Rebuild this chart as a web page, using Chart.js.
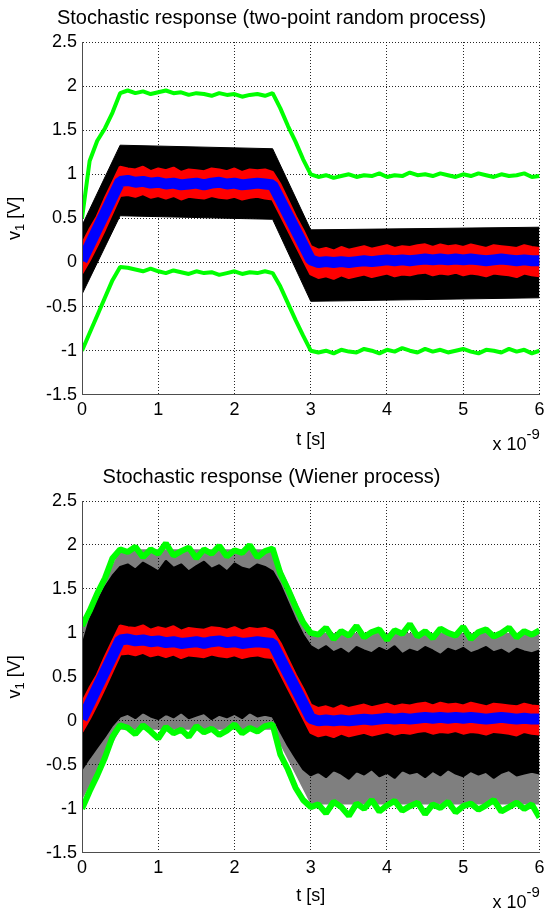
<!DOCTYPE html>
<html>
<head>
<meta charset="utf-8">
<script src="https://cdn.jsdelivr.net/npm/chart.js@4.4.1/dist/chart.umd.min.js"></script>
<style>
  body { margin: 0; background: #fff; }
  canvas { display: block; }
</style>
</head>
<body>
<canvas id="twoPointChart" width="549" height="456"></canvas>
<canvas id="wienerChart" width="549" height="456"></canvas>
<script>
// time axis in ns (axis is labelled x 10^-9 s)
const tGrid = [
  0, 0.1, 0.2, 0.3, 0.4, 0.5, 0.6, 0.7, 0.8, 0.9,
  1, 1.1, 1.2, 1.3, 1.4, 1.5, 1.6, 1.7, 1.8, 1.9,
  2, 2.1, 2.2, 2.3, 2.4, 2.5, 2.6, 2.7, 2.8, 2.9,
  3, 3.1, 3.2, 3.3, 3.4, 3.5, 3.6, 3.7, 3.8, 3.9,
  4, 4.1, 4.2, 4.3, 4.4, 4.5, 4.6, 4.7, 4.8, 4.9,
  5, 5.1, 5.2, 5.3, 5.4, 5.5, 5.6, 5.7, 5.8, 5.9,
  6,
];
const tBreaks = [0, 0.5, 2.5, 3, 6];

const xTickValues = [0, 1, 2, 3, 4, 5, 6];
const xTickLabels = ["0", "1", "2", "3", "4", "5", "6"];
const yTickValues = [-1.5, -1, -0.5, 0, 0.5, 1, 1.5, 2, 2.5];
const yTickLabels = ["-1.5", "-1", "-0.5", "0", "0.5", "1", "1.5", "2", "2.5"];

// mean response (blue), same in both plots
const meanV = [
  0.02, 0.2, 0.38, 0.56, 0.74, 0.92, 0.93, 0.91, 0.92, 0.9,
  0.91, 0.89, 0.9, 0.88, 0.89, 0.9, 0.88, 0.9, 0.91, 0.89,
  0.9, 0.88, 0.89, 0.9, 0.89, 0.88, 0.71, 0.54, 0.37, 0.2,
  0.03, 0.0, 0.01, 0.0, 0.01, 0.0, 0.01, 0.02, 0.01, 0.02,
  0.03, 0.02, 0.03, 0.02, 0.03, 0.04, 0.03, 0.04, 0.03, 0.04,
  0.03, 0.04, 0.03, 0.02, 0.03, 0.04, 0.03, 0.02, 0.03, 0.02,
  0.02,
];

// red band edges (mean +/- std)
const redHi = [
  0.2, 0.37, 0.52, 0.72, 0.9, 1.08, 1.06, 1.05, 1.08, 1.03,
  1.06, 1.04, 1.07, 1.02, 1.05, 1.04, 1.03, 1.06, 1.05, 1.03,
  1.06, 1.02, 1.05, 1.04, 1.05, 1.02, 0.88, 0.7, 0.52, 0.36,
  0.18, 0.14, 0.16, 0.13, 0.17, 0.14, 0.16, 0.18, 0.15, 0.17,
  0.19, 0.16, 0.18, 0.17, 0.19, 0.2, 0.17, 0.2, 0.18, 0.19,
  0.17, 0.2, 0.18, 0.16, 0.19, 0.18, 0.17, 0.16, 0.19, 0.17,
  0.16,
];
const redLo = [
  -0.12, 0.03, 0.2, 0.38, 0.57, 0.76, 0.77, 0.75, 0.78, 0.74,
  0.76, 0.73, 0.76, 0.72, 0.75, 0.74, 0.73, 0.76, 0.74, 0.73,
  0.75, 0.72, 0.74, 0.75, 0.73, 0.72, 0.55, 0.38, 0.21, 0.04,
  -0.13, -0.17, -0.15, -0.18, -0.14, -0.17, -0.15, -0.13, -0.16, -0.14,
  -0.12, -0.15, -0.13, -0.14, -0.12, -0.11, -0.14, -0.12, -0.13, -0.11,
  -0.14, -0.12, -0.13, -0.15, -0.12, -0.13, -0.14, -0.16, -0.12, -0.14,
  -0.15,
];

// two-point process: green bounds and black envelope
const greenHiTwoPoint = [
  0.5, 1.15, 1.38, 1.52, 1.7, 1.92, 1.95, 1.92, 1.94, 1.91,
  1.93, 1.95, 1.92, 1.93, 1.9, 1.92, 1.91, 1.89, 1.92, 1.9,
  1.91, 1.88, 1.9, 1.91, 1.89, 1.92, 1.75, 1.55, 1.37, 1.17,
  1.0, 0.97, 0.99, 0.96, 0.98, 1.0, 0.97, 0.99, 0.98, 1.01,
  0.97, 0.99, 0.98, 1.02, 0.99, 1.0, 0.98, 1.01, 0.99, 0.97,
  1.0, 0.98, 1.01, 0.99, 0.97, 1.0, 0.98, 0.99, 1.01, 0.97,
  0.98,
];
const greenLoTwoPoint = [
  -1.0, -0.8, -0.6, -0.4, -0.2, -0.05, -0.06, -0.08, -0.1, -0.07,
  -0.1, -0.12, -0.09, -0.11, -0.13, -0.1, -0.12, -0.11, -0.14, -0.12,
  -0.1, -0.13, -0.11, -0.12, -0.1, -0.12, -0.27, -0.46, -0.65, -0.83,
  -1.0, -1.02, -1.0, -1.03, -0.99, -1.01, -1.02, -0.98, -1.0, -1.03,
  -0.99, -1.01, -0.97, -1.0, -1.02, -0.98, -1.01, -0.99, -1.02, -1.0,
  -0.98, -1.01, -1.03, -0.99, -1.0, -1.02, -0.98, -1.01, -0.99, -1.03,
  -1.0,
];
const blackHiTwoPoint = [0.42, 1.33, 1.29, 0.37, 0.4];
const blackLoTwoPoint = [-0.36, 0.53, 0.49, -0.44, -0.4];

// Wiener process: green bounds, dense black samples, speckled fringe
const greenHiWiener = [
  1.08, 1.25, 1.45, 1.62, 1.85, 1.95, 1.92, 1.98, 1.86, 1.95,
  1.9, 2.02, 1.88, 1.93, 1.97, 1.85, 1.95, 1.9, 1.99, 1.87,
  1.94, 1.91, 2.0, 1.86, 1.93, 1.96, 1.68, 1.5, 1.3, 1.12,
  1.0, 0.98, 1.06, 0.93, 1.02, 0.97, 1.08, 0.95, 1.01, 1.04,
  0.92, 1.03, 0.99, 1.1, 0.96, 1.02, 0.94, 1.05, 1.0, 0.97,
  1.07, 0.93, 1.01, 1.04, 0.96, 1.0, 1.06, 0.95, 1.02, 0.98,
  1.03,
];
const greenLoWiener = [
  -1.0, -0.8, -0.62, -0.42, -0.18, -0.05, -0.08, -0.15, -0.05, -0.12,
  -0.2, -0.07, -0.14, -0.1, -0.18, -0.06, -0.13, -0.09, -0.16, -0.11,
  -0.04, -0.14, -0.08, -0.12, -0.06, -0.04, -0.38, -0.55, -0.76, -0.9,
  -0.98, -0.95, -1.05, -0.92, -0.98, -1.08, -0.94, -1.0, -0.9, -1.03,
  -0.96, -0.91, -1.02, -0.97, -0.93, -1.06, -0.95, -0.99, -0.92, -1.04,
  -0.97, -0.94, -1.01, -0.96, -0.9, -1.03, -0.98, -0.93, -1.0, -0.95,
  -1.1,
];
const blackHiWiener = [
  0.85, 1.15, 1.35, 1.52, 1.65, 1.75, 1.78, 1.72, 1.8, 1.75,
  1.7, 1.82, 1.74, 1.78, 1.7, 1.76, 1.81, 1.73, 1.77, 1.7,
  1.79, 1.74, 1.72, 1.78, 1.75, 1.7, 1.55, 1.35, 1.15, 0.98,
  0.85, 0.8, 0.85, 0.78, 0.82, 0.76, 0.84, 0.8, 0.77, 0.83,
  0.79, 0.85, 0.76, 0.81, 0.78, 0.84, 0.8, 0.75, 0.82, 0.79,
  0.83, 0.77, 0.8, 0.84, 0.78, 0.81, 0.76, 0.82, 0.79, 0.77,
  0.8,
];
const blackLoWiener = [
  -0.55, -0.42, -0.3, -0.18, -0.05, 0.05, 0.08, 0.03, 0.1, 0.05,
  0.02, 0.08, 0.04, 0.1, 0.03, 0.06, 0.09, 0.02, 0.07, 0.04,
  0.08, 0.03, 0.1, 0.05, 0.07, 0.05, -0.12, -0.28, -0.42, -0.55,
  -0.62, -0.58, -0.64, -0.56, -0.6, -0.66, -0.57, -0.61, -0.55, -0.63,
  -0.59, -0.65, -0.56, -0.6, -0.58, -0.64, -0.57, -0.62, -0.55, -0.6,
  -0.63, -0.57, -0.61, -0.58, -0.65, -0.59, -0.56, -0.62, -0.6, -0.58,
  -0.6,
];
const speckleHiWiener = [1.05, 1.95, 1.95, 1.0, 1.0];
const speckleLoWiener = [-0.9, -0.1, -0.1, -0.95, -0.95];

const FONT_FAMILY = "'Liberation Sans', Arial, sans-serif";
const GREEN = "#00ff00";

function points(ts, vs) {
  return ts.map((t, i) => ({ x: t, y: vs[i] }));
}

function line(ts, vs, color, width, extra) {
  return Object.assign(
    {
      data: points(ts, vs),
      borderColor: color,
      backgroundColor: color,
      borderWidth: width,
      pointRadius: 0,
      tension: 0,
      fill: false,
      clip: 0,
      borderJoinStyle: "bevel",
    },
    extra || {}
  );
}

// y label with subscript and the x 10^-9 exponent
const axisTextPlugin = {
  id: "axisText",
  afterDraw(chart) {
    const { ctx, chartArea } = chart;
    const cy = (chartArea.top + chartArea.bottom) / 2;
    const mainFont = "18px " + FONT_FAMILY;
    const subFont = "13px " + FONT_FAMILY;

    ctx.save();
    ctx.fillStyle = "#000";
    ctx.translate(15, cy);
    ctx.rotate(-Math.PI / 2);
    ctx.textBaseline = "middle";
    ctx.textAlign = "left";
    ctx.font = mainFont;
    const wV = ctx.measureText("v").width;
    const wRest = ctx.measureText(" [V]").width;
    ctx.font = subFont;
    const w1 = ctx.measureText("1").width;
    let x = -(wV + w1 + wRest) / 2;
    ctx.font = mainFont;
    ctx.fillText("v", x, 0);
    x += wV;
    ctx.font = subFont;
    ctx.fillText("1", x, 5);
    x += w1;
    ctx.font = mainFont;
    ctx.fillText(" [V]", x, 0);
    ctx.restore();

    ctx.save();
    ctx.fillStyle = "#000";
    ctx.textBaseline = "alphabetic";
    ctx.font = mainFont;
    ctx.textAlign = "right";
    ctx.fillText("x 10", chartArea.right - 13, chartArea.bottom + 55);
    ctx.font = "15px " + FONT_FAMILY;
    ctx.textAlign = "left";
    ctx.fillText("-9", chartArea.right - 13, chartArea.bottom + 44);
    ctx.restore();
  },
};

function makeChart(canvasId, titleText, datasets, pad) {
  const gridOpts = {
    color: "rgba(0, 0, 0, 0.85)",
    lineWidth: 1,
    drawTicks: false,
  };
  const borderOpts = {
    display: true,
    color: "#4d4d4d",
    width: 1,
    dash: [1, 2],
    z: 1,
  };
  return new Chart(document.getElementById(canvasId), {
    type: "line",
    data: { datasets: datasets },
    plugins: [axisTextPlugin],
    options: {
      responsive: false,
      animation: false,
      events: [],
      layout: {
        padding: { left: 0, right: 6, top: 0, bottom: pad.bottom },
      },
      plugins: {
        legend: { display: false },
        tooltip: { enabled: false },
        title: {
          display: true,
          text: titleText,
          color: "#000",
          font: { family: FONT_FAMILY, size: 20, weight: "normal" },
          padding: { top: pad.titleTop, bottom: pad.titleBottom },
        },
      },
      scales: {
        x: {
          type: "linear",
          min: 0,
          max: 6,
          grid: gridOpts,
          border: borderOpts,
          afterBuildTicks: (scale) => {
            scale.ticks = xTickValues.map((v) => ({ value: v }));
          },
          ticks: {
            color: "#000",
            padding: 4.5,
            maxRotation: 0,
            font: { family: FONT_FAMILY, size: 18 },
            callback: (value, index) => xTickLabels[index],
          },
          title: {
            display: true,
            text: "t [s]",
            color: "#000",
            font: { family: FONT_FAMILY, size: 18 },
            padding: { top: pad.xTitle, bottom: 0 },
          },
        },
        y: {
          type: "linear",
          min: -1.5,
          max: 2.5,
          grid: gridOpts,
          border: borderOpts,
          afterFit: (scale) => {
            scale.width = 82;
          },
          afterBuildTicks: (scale) => {
            scale.ticks = yTickValues.map((v) => ({ value: v }));
          },
          ticks: {
            color: "#000",
            padding: 5,
            font: { family: FONT_FAMILY, size: 18 },
            callback: (value, index) => yTickLabels[index],
          },
        },
      },
    },
  });
}

// Two-point random process
makeChart(
  "twoPointChart",
  "Stochastic response (two-point random process)",
  [
    line(tGrid, greenHiTwoPoint, GREEN, 4),
    line(tGrid, greenLoTwoPoint, GREEN, 4),
    line(tGrid, meanV, "#0000ff", 11),
    line(tGrid, redHi, "#ff0000", 3, { fill: 4 }),
    line(tGrid, redLo, "#ff0000", 3),
    line(tBreaks, blackHiTwoPoint, "#000", 1, { fill: 6 }),
    line(tBreaks, blackLoTwoPoint, "#000", 1),
  ],
  { titleTop: 6, titleBottom: 12, xTitle: 4, bottom: 5 }
);

// Wiener process
makeChart(
  "wienerChart",
  "Stochastic response (Wiener process)",
  [
    line(tGrid, greenHiWiener, GREEN, 6),
    line(tGrid, greenLoWiener, GREEN, 6),
    line(tGrid, meanV, "#0000ff", 11),
    line(tGrid, redHi, "#ff0000", 3, { fill: 4 }),
    line(tGrid, redLo, "#ff0000", 3),
    line(tGrid, blackHiWiener, "#000", 2, { fill: 6 }),
    line(tGrid, blackLoWiener, "#000", 2),
    line(tBreaks, speckleHiWiener, "rgba(0,0,0,0.5)", 0, { fill: 8 }),
    line(tBreaks, speckleLoWiener, "rgba(0,0,0,0.5)", 0),
  ],
  { titleTop: 9, titleBottom: 12, xTitle: 2, bottom: 5 }
);
</script>
</body>
</html>
